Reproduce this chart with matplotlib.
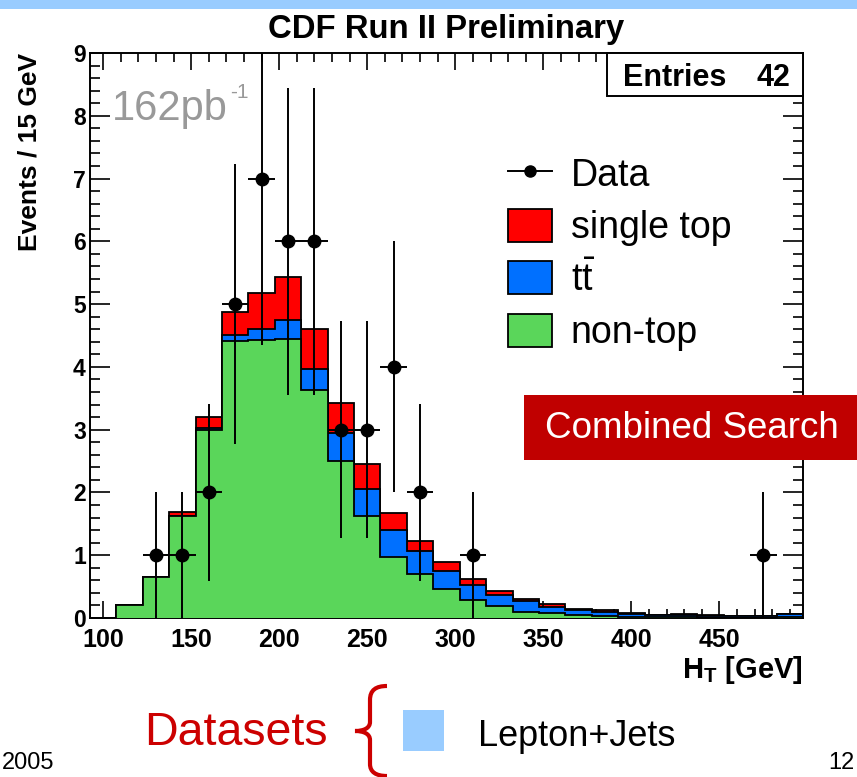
import numpy as np
import matplotlib
matplotlib.use("Agg")
import matplotlib.pyplot as plt
from matplotlib.patches import Rectangle, PathPatch, Patch
from matplotlib.path import Path
from matplotlib.lines import Line2D
from matplotlib.ticker import MultipleLocator
from matplotlib.transforms import Affine2D

plt.rcParams['font.family'] = ['Liberation Sans', 'DejaVu Sans']
plt.rcParams['mathtext.fontset'] = 'custom'
plt.rcParams['mathtext.rm'] = 'Liberation Sans'
plt.rcParams['mathtext.it'] = 'Liberation Sans'
plt.rcParams['mathtext.bf'] = 'Liberation Sans:bold'

# ---- binning: 15 GeV bins in H_T ----
ht_low = 92.5
bin_width = 15.0
n_bins = 27

# ---- stacked expectation per bin (events / 15 GeV) ----
non_top = [0.00, 0.20, 0.66, 1.62, 2.99, 4.42, 4.43, 4.45, 3.63, 2.50,
           1.62, 0.97, 0.70, 0.46, 0.28, 0.19, 0.10, 0.08, 0.05, 0.03,
           0.01, 0.01, 0.01, 0.005, 0.005, 0.005, 0.01]
ttbar = [0.00, 0.00, 0.00, 0.01, 0.04, 0.09, 0.18, 0.30, 0.33, 0.44,
         0.43, 0.43, 0.36, 0.29, 0.25, 0.17, 0.17, 0.10, 0.07, 0.07,
         0.06, 0.035, 0.045, 0.03, 0.02, 0.02, 0.055]
single_top = [0.00, 0.00, 0.00, 0.06, 0.17, 0.37, 0.56, 0.68, 0.64, 0.49,
              0.40, 0.28, 0.17, 0.14, 0.09, 0.07, 0.04, 0.04, 0.02, 0.02,
              0.01, 0.005, 0.005, 0.005, 0.005, 0.005, 0.005]

# ---- observed events per bin ----
data_counts = [0, 0, 1, 1, 2, 5, 7, 6, 6, 3,
               3, 4, 2, 0, 1, 0, 0, 0, 0, 0,
               0, 0, 0, 0, 0, 1, 0]

x_ticks = [100, 150, 200, 250, 300, 350, 400, 450]
y_ticks = [0, 1, 2, 3, 4, 5, 6, 7, 8, 9]

legend_labels = ["Data", "single top", r"$\mathrm{t\bar{t}}$", "non-top"]

C_RED = "#ff0000"
C_BLUE = "#0070ff"
C_GREEN = "#5ad65a"

W, H = 857, 777
fig = plt.figure(figsize=(W / 100, H / 100), dpi=100)


def fx(px):
    return px / W


def fy(py):
    return 1 - py / H


ax = fig.add_axes([fx(90), fy(618), (803 - 90) / W, (618 - 53) / H])

edges = ht_low + bin_width * np.arange(n_bins + 1)
centers = 0.5 * (edges[:-1] + edges[1:])
g = np.array(non_top)
t = np.array(ttbar)
s = np.array(single_top)

# stacked histogram, drawn from the top layer down
ax.stairs(g + t + s, edges, fill=True, facecolor=C_RED, edgecolor="black", lw=1.3, zorder=1)
ax.stairs(g + t, edges, fill=True, facecolor=C_BLUE, edgecolor="black", lw=1.3, zorder=2)
ax.stairs(g, edges, fill=True, facecolor=C_GREEN, edgecolor="black", lw=1.3, zorder=3)

# data points with Poisson errors
d = np.array(data_counts, dtype=float)
m = d > 0
ax.errorbar(centers[m], d[m], xerr=bin_width / 2, yerr=np.sqrt(d[m]), fmt="o",
            color="black", ms=9, elinewidth=1.4, capsize=0, zorder=5)

ax.set_xlim(edges[0], edges[-1])
ax.set_ylim(0, 9)
ax.set_xticks(x_ticks)
ax.set_yticks(y_ticks)
ax.xaxis.set_minor_locator(MultipleLocator(10))
ax.yaxis.set_minor_locator(MultipleLocator(0.2))
ax.tick_params(which="both", direction="in", top=True, right=True, width=1.2)
ax.tick_params(axis="x", which="major", length=12.5, pad=7, labelsize=18)
ax.tick_params(axis="x", which="minor", length=6.5)
ax.tick_params(axis="y", which="major", length=14.5, pad=3, labelsize=16.5)
ax.tick_params(axis="y", which="minor", length=7.2)
for lab in ax.get_xticklabels() + ax.get_yticklabels():
    lab.set_fontweight("bold")
for sp in ax.spines.values():
    sp.set_linewidth(1.4)

ax.set_ylabel("Events / 15 GeV", fontsize=19, fontweight="bold", loc="top")
ax.yaxis.set_label_coords(-0.068, 1.0)
ax.set_xlabel(r"$\mathbf{H_T}$ [GeV]", fontsize=21, fontweight="bold", loc="right")
ax.xaxis.set_label_coords(1.0, -0.063)

ax.set_title("CDF Run II Preliminary", fontsize=23.7, fontweight="bold",
             y=1 + 15 / 565, pad=0)

# legend
handles = [
    Line2D([], [], color="black", marker="o", ms=8, lw=1.4),
    Patch(facecolor=C_RED, edgecolor="black", lw=1.3),
    Patch(facecolor=C_BLUE, edgecolor="black", lw=1.3),
    Patch(facecolor=C_GREEN, edgecolor="black", lw=1.3),
]
ax.legend(handles, legend_labels, loc="upper left",
          bbox_to_anchor=(fx(508), fy(156)), bbox_transform=fig.transFigure,
          frameon=False, fontsize=27, handlelength=1.17, handleheight=0.99,
          handletextpad=0.5, labelspacing=0.4, borderpad=0, borderaxespad=0)

# integrated luminosity
fig.text(fx(112), fy(120), "162pb", fontsize=30, color="#999999", va="baseline")
fig.text(fx(230), fy(98), "-1", fontsize=15, color="#999999", va="baseline")

# entries box
fig.add_artist(Rectangle((fx(607), fy(96)), (803 - 607) / W, (96 - 53) / H,
                         transform=fig.transFigure, facecolor="white",
                         edgecolor="black", lw=1.4, zorder=3))
fig.text(fx(623), fy(86), "Entries", fontsize=22, fontweight="bold",
         va="baseline", ha="left", zorder=4)
fig.text(fx(790), fy(86), "42", fontsize=22, fontweight="bold",
         va="baseline", ha="right", zorder=4)

# search label
fig.add_artist(Rectangle((fx(524), fy(460)), (W - 524) / W, 65 / H,
                         transform=fig.transFigure, facecolor="#c00000",
                         edgecolor="none", zorder=3))
fig.text(fx(692), fy(428), "Combined Search", fontsize=26.5, color="white",
         ha="center", va="center", zorder=4)

# top band
fig.add_artist(Rectangle((0, fy(9)), 1, 9 / H, transform=fig.transFigure,
                         facecolor="#99ccff", edgecolor="none", zorder=3))

# datasets line
fig.text(fx(144), fy(745), "Datasets", fontsize=33.5, color="#cc0000", va="baseline")
px = Affine2D().scale(1 / W, -1 / H).translate(0, 1) + fig.transFigure
brace = Path([(387, 686), (376, 686), (370, 690), (370, 700),
              (370, 722),
              (370, 728), (364, 731), (355, 731),
              (364, 731), (370, 734), (370, 740),
              (370, 764),
              (370, 772), (376, 776), (387, 776)],
             [Path.MOVETO, Path.CURVE4, Path.CURVE4, Path.CURVE4,
              Path.LINETO,
              Path.CURVE4, Path.CURVE4, Path.CURVE4,
              Path.CURVE4, Path.CURVE4, Path.CURVE4,
              Path.LINETO,
              Path.CURVE4, Path.CURVE4, Path.CURVE4])
fig.add_artist(PathPatch(brace, transform=px, facecolor="none",
                         edgecolor="#cc0000", lw=3))
fig.add_artist(Rectangle((fx(403), fy(751)), 41 / W, 41 / H,
                         transform=fig.transFigure, facecolor="#99ccff",
                         edgecolor="none"))
fig.text(fx(478), fy(746), "Lepton+Jets", fontsize=26, color="black", va="baseline")

# footer
fig.text(fx(2), fy(769), "2005", fontsize=17, ha="left", va="baseline")
fig.text(fx(854), fy(769), "12", fontsize=17, ha="right", va="baseline")

fig.savefig("out.png", dpi=100)
